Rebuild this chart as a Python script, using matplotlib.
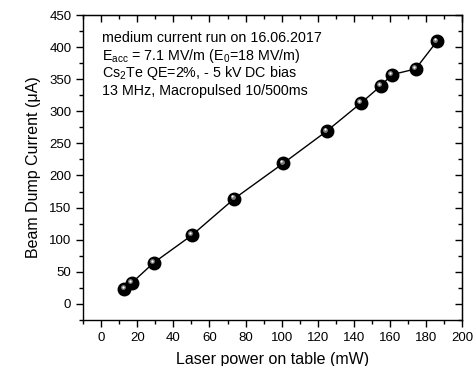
import matplotlib
matplotlib.use("Agg")
import matplotlib.pyplot as plt
import matplotlib.transforms as mtransforms
from matplotlib.ticker import MultipleLocator

plt.rcParams['font.family'] = ['Liberation Sans', 'DejaVu Sans']
plt.rcParams['mathtext.fontset'] = 'custom'
plt.rcParams['mathtext.rm'] = 'Liberation Sans'
plt.rcParams['mathtext.it'] = 'Liberation Sans'

laser_power = [12.9, 17.1, 29.1, 50.3, 73.8, 100.9, 124.9, 144.0, 155.1, 161.0, 174.2, 186.0]
beam_current = [23, 33, 64, 107, 164, 219, 269, 313, 340, 357, 366, 409]

fig = plt.figure(figsize=(4.75, 3.66), dpi=100)
ax = fig.add_axes([0.175, 0.126, 0.798, 0.833])

ax.plot(laser_power, beam_current, color='black', lw=1.0, zorder=2)
ax.plot(laser_power, beam_current, 'o', ms=9, color='black', mec='black', zorder=3)
# small highlight for a shaded-sphere look
hl = mtransforms.offset_copy(ax.transData, fig=fig, x=-1.2, y=1.2, units='points')
ax.plot(laser_power, beam_current, 'o', ms=3.5, color='#9a9a9a', mec='none',
        transform=hl, zorder=4, alpha=0.8)
hl2 = mtransforms.offset_copy(ax.transData, fig=fig, x=-1.4, y=1.5, units='points')
ax.plot(laser_power, beam_current, 'o', ms=1.6, color='white', mec='none',
        transform=hl2, zorder=5)

ax.set_xlim(-10, 200)
ax.set_ylim(-25, 450)
ax.xaxis.set_major_locator(MultipleLocator(20))
ax.xaxis.set_minor_locator(MultipleLocator(10))
ax.yaxis.set_major_locator(MultipleLocator(50))
ax.yaxis.set_minor_locator(MultipleLocator(25))
ax.tick_params(which='both', direction='out', top=False, right=False, labelsize=9.5)
ax.tick_params(which='major', length=5, width=1)
ax.tick_params(which='minor', length=3, width=1)

# mirrored inward ticks on top and right
secx = ax.secondary_xaxis('top')
secx.xaxis.set_major_locator(MultipleLocator(20))
secx.xaxis.set_minor_locator(MultipleLocator(10))
secx.tick_params(which='both', direction='in', labeltop=False)
secx.tick_params(which='major', length=5, width=1)
secx.tick_params(which='minor', length=3, width=1)
secy = ax.secondary_yaxis('right')
secy.yaxis.set_major_locator(MultipleLocator(50))
secy.yaxis.set_minor_locator(MultipleLocator(25))
secy.tick_params(which='both', direction='in', labelright=False)
secy.tick_params(which='major', length=5, width=1)
secy.tick_params(which='minor', length=3, width=1)

for sp in ax.spines.values():
    sp.set_linewidth(1.0)

ax.set_xlabel('Laser power on table (mW)', fontsize=11.5, labelpad=6)
ax.set_ylabel('Beam Dump Current (\u03bcA)', fontsize=11.5, labelpad=6)

lines = [
    'medium current run on 16.06.2017',
    r'E$_{\mathregular{acc}}$ = 7.1 MV/m (E$_{\mathregular{0}}$=18 MV/m)',
    r'Cs$_{\mathregular{2}}$Te QE=2%, - 5 kV DC bias',
    '13 MHz, Macropulsed 10/500ms',
]
for i, t in enumerate(lines):
    ax.text(0.05, 0.925 - i * 0.058, t, transform=ax.transAxes, fontsize=10.3,
            va='center', ha='left')

fig.savefig('out.png', dpi=100)
